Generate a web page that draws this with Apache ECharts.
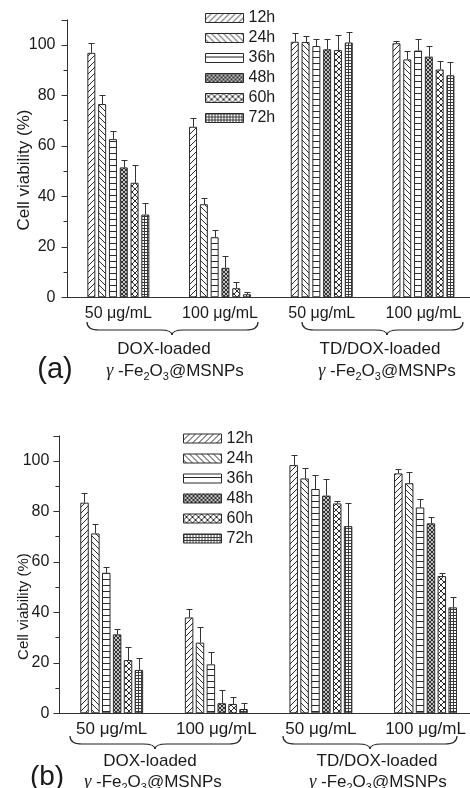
<!DOCTYPE html>
<html>
<head>
<meta charset="utf-8">
<script src="https://cdn.jsdelivr.net/npm/echarts@6/dist/echarts.min.js"></script>
<style>
html,body{margin:0;padding:0;background:#fff;}
#c{width:470px;height:788px;}
</style>
</head>
<body>
<div id="c"></div>
<script>
// ---------- data ----------
const categories = ['50 μg/mL', '100 μg/mL', '50 μg/mL', '100 μg/mL'];
const times = ['12h', '24h', '36h', '48h', '60h', '72h'];

// panel (a): mean cell viability (%) per time point, per category
const a12h = [96.9, 67.6, 101.3, 100.7];
const a24h = [76.6, 36.9, 101.2, 94.3];
const a36h = [62.7, 23.8, 99.6, 97.8];
const a48h = [51.5, 11.7, 98.3, 95.4];
const a60h = [45.4, 3.6, 98.0, 90.3];
const a72h = [32.8, 1.2, 101.0, 88.0];
// panel (a): error (upper whisker length)
const a12hErr = [3.8, 3.6, 3.3, 1.0];
const a24hErr = [3.6, 2.5, 2.4, 3.3];
const a36hErr = [3.3, 2.9, 2.8, 4.5];
const a48hErr = [2.9, 4.8, 4.2, 4.3];
const a60hErr = [7.0, 2.6, 5.8, 3.4];
const a72hErr = [4.6, 0.8, 4.3, 5.3];

// panel (b)
const b12h = [83.5, 38.0, 98.4, 95.1];
const b24h = [71.3, 28.0, 93.1, 91.2];
const b36h = [55.7, 19.4, 88.9, 81.6];
const b48h = [31.3, 4.0, 86.3, 75.3];
const b60h = [21.1, 3.7, 83.2, 54.4];
const b72h = [17.2, 1.7, 74.2, 42.0];
const b12hErr = [3.9, 3.5, 4.0, 1.6];
const b24hErr = [3.7, 6.1, 4.0, 4.6];
const b36hErr = [2.2, 5.0, 5.4, 3.2];
const b48hErr = [2.2, 5.2, 6.4, 2.4];
const b60hErr = [5.1, 2.6, 1.1, 1.1];
const b72hErr = [4.6, 2.5, 9.0, 4.2];

const valsA = [a12h, a24h, a36h, a48h, a60h, a72h];
const errsA = [a12hErr, a24hErr, a36hErr, a48hErr, a60hErr, a72hErr];
const valsB = [b12h, b24h, b36h, b48h, b60h, b72h];
const errsB = [b12hErr, b24hErr, b36hErr, b48hErr, b60hErr, b72hErr];

// ---------- patterns ----------
const INK = '#2a2a2a';
function pattern(kind) {
  const c = document.createElement('canvas');
  let w = 6, h = 6;
  if (kind === 'h') { w = 4; h = 6; }
  if (kind === 'dense') { w = 4; h = 4; }
  if (kind === 'grid') { w = 3; h = 3; }
  c.width = w; c.height = h;
  const g = c.getContext('2d');
  g.fillStyle = '#fff'; g.fillRect(0, 0, w, h);
  g.strokeStyle = INK; g.lineWidth = 1;
  const diag = (dir) => {
    for (let k = -w; k <= w; k += w) {
      g.beginPath();
      if (dir > 0) { g.moveTo(k, h); g.lineTo(k + w, 0); }
      else { g.moveTo(k, 0); g.lineTo(k + w, h); }
      g.stroke();
    }
  };
  if (kind === 'f') diag(1);
  else if (kind === 'b') diag(-1);
  else if (kind === 'h') { g.beginPath(); g.moveTo(0, 3.5); g.lineTo(w, 3.5); g.stroke(); }
  else if (kind === 'dense') { g.lineWidth = 1.1; diag(1); diag(-1); }
  else if (kind === 'x') { diag(1); diag(-1); }
  else if (kind === 'grid') {
    g.strokeStyle = '#3a3a3a';
    g.beginPath(); g.moveTo(0.5, 0); g.lineTo(0.5, h); g.moveTo(0, 0.5); g.lineTo(w, 0.5); g.stroke();
  }
  return { image: c, repeat: 'repeat' };
}
const fills = ['f', 'b', 'h', 'dense', 'x', 'grid'].map(pattern);

// ---------- layout ----------
const FONT = 'Liberation Sans, Arial, sans-serif';
const panels = [
  { grid: { left: 67.5, top: 19.8, width: 406.8, height: 277.5, outerBoundsMode: 'none', containLabel: false }, bw: 8, gap: 0.35, vals: valsA, errs: errsA, lab: 16, name: 17, nameGap: 35, namePad: 23, yMargin: 12 },
  { grid: { left: 59.4, top: 435.8, width: 418.4, height: 277.5, outerBoundsMode: 'none', containLabel: false }, bw: 8.5, gap: 0.28, vals: valsB, errs: errsB, lab: 17, name: 15, nameGap: 28, namePad: 64, yMargin: 10 }
];

const grids = [], xAxes = [], yAxes = [], series = [];
panels.forEach((p, pi) => {
  grids.push(p.grid);
  xAxes.push({
    type: 'category', gridIndex: pi, data: categories,
    axisLine: { lineStyle: { color: '#333', width: 1 } },
    axisTick: { alignWithLabel: true, length: 4, lineStyle: { color: '#333' } },
    axisLabel: { interval: 0, fontSize: p.lab, fontFamily: FONT, color: '#1a1a1a', margin: 8 },
    splitLine: { show: false }
  });
  yAxes.push({
    type: 'value', gridIndex: pi, min: 0, max: 110, interval: 20,
    name: 'Cell viability (%)', nameLocation: 'middle', nameGap: p.nameGap, nameMoveOverlap: false,
    nameTextStyle: { fontSize: p.name, fontFamily: FONT, color: '#1a1a1a', padding: [0, p.namePad, 0, 0] },
    axisLine: { show: true, lineStyle: { color: '#333', width: 1 } },
    axisTick: { show: true, length: 6, lineStyle: { color: '#333' } },
    minorTick: { show: true, splitNumber: 2, length: 4, lineStyle: { color: '#333' } },
    axisLabel: { showMaxLabel: false, fontSize: 16, fontFamily: FONT, color: '#1a1a1a', margin: p.yMargin },
    splitLine: { show: false }
  });
  times.forEach((t, ti) => {
    series.push({
      type: 'bar', name: t, xAxisIndex: pi, yAxisIndex: pi,
      data: p.vals[ti], barWidth: p.bw, barGap: (p.gap * 100) + '%',
      itemStyle: { color: fills[ti], borderColor: INK, borderWidth: 1 },
      emphasis: { disabled: true }, z: 2
    });
  });
  const pitch = p.bw * (1 + p.gap);
  const errData = [];
  times.forEach((t, ti) => {
    p.vals[ti].forEach((v, ci) => errData.push([ci, ti, v, v + p.errs[ti][ci]]));
  });
  series.push({
    type: 'custom', xAxisIndex: pi, yAxisIndex: pi, z: 3,
    encode: { x: 0, y: [2, 3] },
    data: errData,
    renderItem(params, api) {
      const ci = api.value(0), ti = api.value(1), v = api.value(2), e = api.value(3);
      const b = api.coord([ci, v]), t = api.coord([ci, e]);
      const x = Math.round(b[0] + (ti - 2.5) * pitch) + 0.5;
      const yt = Math.round(t[1]) + 0.5;
      return {
        type: 'group', children: [
          { type: 'line', shape: { x1: x, y1: b[1], x2: x, y2: yt }, style: { stroke: '#333', lineWidth: 1 } },
          { type: 'line', shape: { x1: x - 3, y1: yt, x2: x + 3, y2: yt }, style: { stroke: '#333', lineWidth: 1 } }
        ]
      };
    }
  });
});

const legendBase = {
  data: times, orient: 'vertical', icon: 'rect', itemWidth: 38, itemHeight: 9, itemGap: 4, padding: 0,
  selectedMode: false,
  itemStyle: { borderColor: INK, borderWidth: 1 },
  textStyle: { fontSize: 16, fontFamily: FONT, color: '#1a1a1a', lineHeight: 16 }
};

// braces built from quadratic curves and straight lines
function brace(x1, x2, xm, y0) {
  const y1 = y0 + 8, y2 = y0 + 13, r = 12;
  const st = { stroke: '#222', fill: null, lineWidth: 1.2 };
  const q = (ax, ay, cx, cy, bx, by) => ({ type: 'bezierCurve', shape: { x1: ax, y1: ay, cpx1: cx, cpy1: cy, x2: bx, y2: by }, style: st, z: 10 });
  const l = (ax, ay, bx, by) => ({ type: 'line', shape: { x1: ax, y1: ay, x2: bx, y2: by }, style: st, z: 10 });
  return [
    q(x1, y0, x1, y1, x1 + r, y1),
    l(x1 + r, y1, xm - r, y1),
    q(xm - r, y1, xm, y1, xm, y2),
    q(xm, y2, xm, y1, xm + r, y1),
    l(xm + r, y1, x2 - r, y1),
    q(x2 - r, y1, x2, y1, x2, y0)
  ];
}
const rich = {
  n: { fontSize: 17, fontFamily: FONT, fill: '#1a1a1a' },
  g: { fontSize: 18, fontFamily: 'Liberation Serif, serif', fontStyle: 'italic', fill: '#1a1a1a' },
  s: { fontSize: 11, fontFamily: FONT, fill: '#1a1a1a', padding: [12, 0, 0, 0] }
};
const gamma = '{g|γ}{n| -Fe}{s|2}{n|O}{s|3}{n|@MSNPs}';
function txt(x, y, text, size, isRich) {
  const st = { text: text, x: x, y: y, fill: '#1a1a1a', align: 'center', verticalAlign: 'middle', textAlign: 'center', textVerticalAlign: 'middle', font: size + 'px ' + FONT };
  if (isRich) st.rich = rich;
  return { type: 'text', style: st, z: 10 };
}
const graphics = [].concat(
  brace(87, 258, 172, 322),
  brace(302, 463, 387, 322),
  brace(70, 241, 155, 736),
  brace(283, 457, 370, 736),
  [
    txt(164, 349, 'DOX-loaded', 17),
    txt(175, 371, gamma, 17, true),
    txt(380, 349, 'TD/DOX-loaded', 17),
    txt(387, 371, gamma, 17, true),
    txt(55, 370, '(a)', 29),
    txt(150, 761, 'DOX-loaded', 17),
    txt(153, 782, gamma, 17, true),
    txt(377, 761, 'TD/DOX-loaded', 17),
    txt(378, 782, gamma, 17, true),
    txt(47, 777, '(b)', 28)
  ]
);

const chart = echarts.init(document.getElementById('c'), null, { renderer: 'canvas' });
chart.setOption({
  animation: false,
  backgroundColor: '#fff',
  grid: grids, xAxis: xAxes, yAxis: yAxes, series: series,
  legend: [
    Object.assign({}, legendBase, { left: 205, top: 10 }),
    Object.assign({}, legendBase, { left: 183, top: 430.5 })
  ],
  graphic: graphics
});
</script>
</body>
</html>
